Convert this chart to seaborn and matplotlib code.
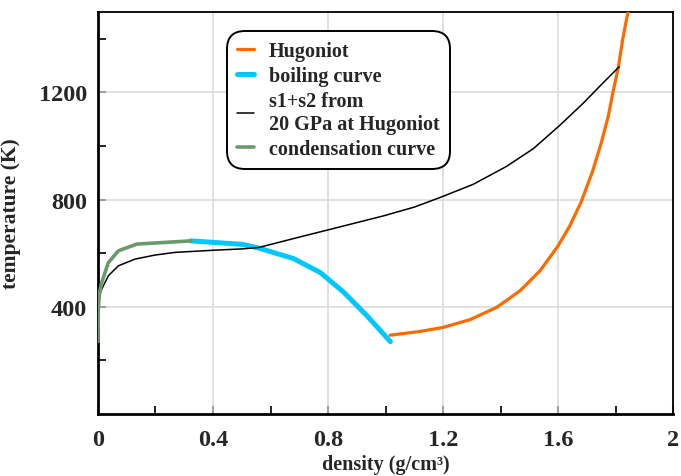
import numpy as np
import pandas as pd
import matplotlib
matplotlib.use("Agg")
import matplotlib.pyplot as plt
from matplotlib.ticker import FixedLocator, FixedFormatter
import seaborn as sns

# values
hug_rho = [1.016, 1.12, 1.2, 1.294, 1.387, 1.468, 1.537, 1.6, 1.64, 1.68, 1.72, 1.75,
           1.775, 1.79, 1.81, 1.825, 1.845]
hug_T = [294, 308, 323, 352, 398, 460, 534, 627, 700, 790, 905, 1010,
         1112, 1195, 1295, 1398, 1510]

boil_rho = [0.323, 0.502, 0.56, 0.68, 0.773, 0.855, 0.936, 1.017]
boil_T = [646, 633, 619, 580, 528, 454, 366, 270]

s12_rho = [0.001, 0.005, 0.013, 0.036, 0.071, 0.129, 0.198, 0.268, 0.4, 0.5, 0.558,
           0.7, 0.8, 0.992, 1.1, 1.19, 1.305, 1.421, 1.514, 1.605, 1.688, 1.746, 1.813]
s12_T = [410, 440, 466, 516, 553, 578, 593, 603, 611, 616, 621,
         660, 687, 739, 772, 808, 857, 924, 990, 1076, 1160, 1224, 1296]

cond_rho = [0.0, 0.001, 0.005, 0.013, 0.036, 0.071, 0.135, 0.323]
cond_T = [270, 391, 450, 491, 565, 609, 634, 646]

x_ticks = [0, 0.4, 0.8, 1.2, 1.6, 2]
x_labels = ['0', '0.4', '0.8', '1.2', '1.6', '2']
y_ticks = [400, 800, 1200]
y_labels = ['400', '800', '1200']

sns.set_theme(style="white")
plt.rcParams['font.family'] = ['Liberation Serif', 'DejaVu Serif']
plt.rcParams['font.weight'] = 'bold'
plt.rcParams['axes.labelweight'] = 'bold'

fig = plt.figure(figsize=(6.81, 4.77), dpi=100)
ax = fig.add_axes([0.1439, 0.13, 0.8444, 0.8427])

series = [
    ('Hugoniot', hug_rho, hug_T, '#ff6a00', 2.3),
    ('boiling curve', boil_rho, boil_T, '#00c8ff', 3.6),
    ('s1+s2 from\n20 GPa at Hugoniot', s12_rho, s12_T, 'black', 1.1),
    ('condensation curve', cond_rho, cond_T, '#6a9a6a', 2.6),
]
for name, xs, ys, col, lw in series:
    df = pd.DataFrame({'density': xs, 'T': ys})
    sns.lineplot(data=df, x='density', y='T', sort=False, estimator=None,
                 color=col, linewidth=lw, label=name, ax=ax, zorder=3)

ax.set_xlim(0, 2)
ax.set_ylim(0, 1500)

ax.xaxis.set_major_locator(FixedLocator(x_ticks))
ax.xaxis.set_major_formatter(FixedFormatter(x_labels))
ax.xaxis.set_minor_locator(FixedLocator([0.2, 0.6, 1.0, 1.4, 1.8]))
ax.yaxis.set_major_locator(FixedLocator(y_ticks))
ax.yaxis.set_major_formatter(FixedFormatter(y_labels))
ax.yaxis.set_minor_locator(FixedLocator([200, 600, 1000, 1400]))

ax.grid(True, which='major', color='#d9d9d9', linewidth=1.1, zorder=0)
ax.set_axisbelow(True)

ax.tick_params(which='major', direction='in', length=6, width=1.5, color='#a0a0a0',
               labelsize=17.5, left=True, bottom=True)
ax.tick_params(axis='x', which='major', pad=11)
ax.tick_params(axis='y', which='major', pad=8)
ax.tick_params(which='minor', direction='in', length=6, width=1.2, color='black',
               left=True, bottom=True)
for lab in ax.get_xticklabels() + ax.get_yticklabels():
    lab.set_fontweight('bold')

for side in ['left', 'bottom']:
    ax.spines[side].set_color('black')
    ax.spines[side].set_linewidth(2)
for side in ['top', 'right']:
    ax.spines[side].set_color('black')
    ax.spines[side].set_linewidth(1.3)

ax.set_xlabel('density (g/cm³)', fontsize=14.5, fontweight='bold', labelpad=3)
ax.set_ylabel('temperature (K)', fontsize=15.5, fontweight='bold', labelpad=13)

leg = ax.legend(loc='upper left', bbox_to_anchor=(0.224, 0.953), borderaxespad=0,
                fontsize=14.5, handlelength=0.85, handletextpad=0.75, labelspacing=0.25,
                borderpad=0.5, frameon=True, fancybox=True, framealpha=1)
leg.set_zorder(5)
frame = leg.get_frame()
frame.set_edgecolor('black')
frame.set_linewidth(1.4)
frame.set_boxstyle('round,pad=0,rounding_size=0.9')
for t in leg.get_texts():
    t.set_fontweight('bold')

fig.savefig('out.png', dpi=100)
